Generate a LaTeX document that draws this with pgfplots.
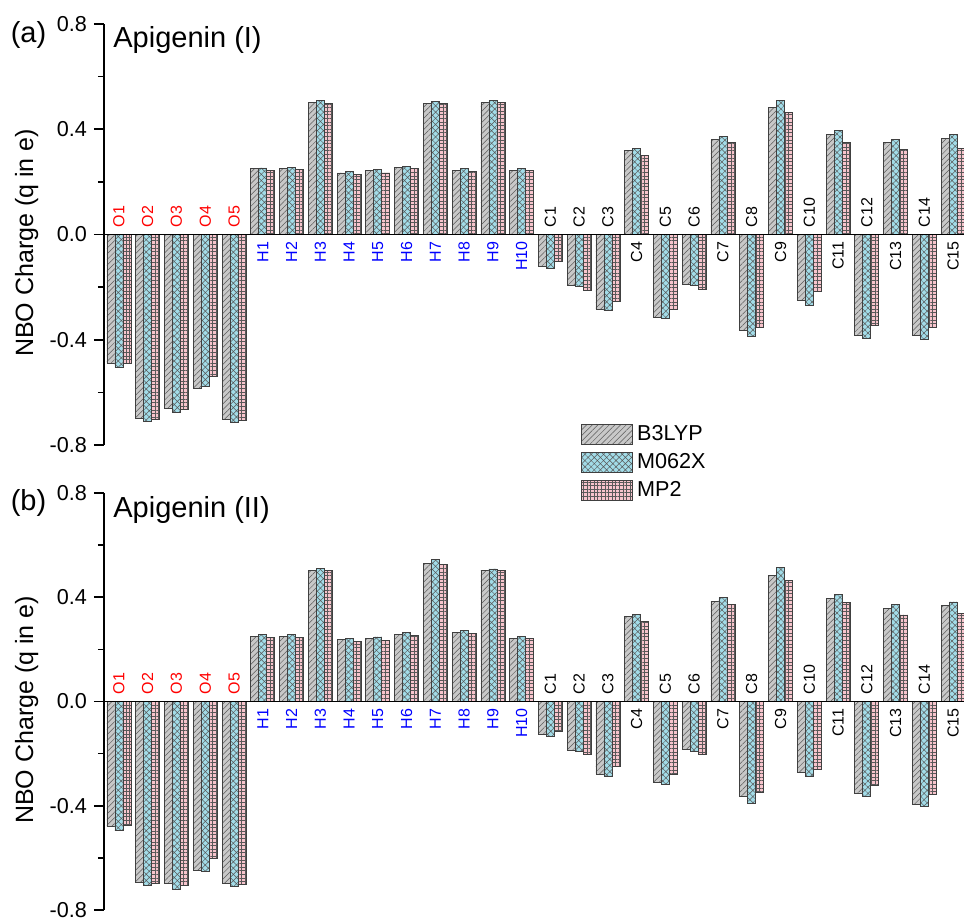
\documentclass[border=0pt]{standalone}
\usepackage{fontspec}
\setmainfont{Liberation Sans}
\usepackage{pgfplots}
\pgfplotsset{compat=1.18}
\usepackage{pgfplotstable}
\usetikzlibrary{patterns.meta}

\definecolor{bgray}{RGB}{200,200,200}
\definecolor{mblue}{RGB}{162,220,232}
\definecolor{ppink}{RGB}{247,196,204}

% panel (a): Apigenin (I)
\pgfplotstableread{
x b m p
0 -0.491 -0.506 -0.491
1 -0.700 -0.709 -0.703
2 -0.662 -0.676 -0.666
3 -0.583 -0.578 -0.538
4 -0.703 -0.714 -0.708
5 0.250 0.253 0.243
6 0.251 0.255 0.246
7 0.502 0.509 0.499
8 0.234 0.239 0.229
9 0.243 0.248 0.234
10 0.254 0.260 0.250
11 0.498 0.506 0.497
12 0.243 0.250 0.240
13 0.503 0.510 0.502
14 0.245 0.250 0.243
15 -0.122 -0.130 -0.103
16 -0.195 -0.198 -0.213
17 -0.284 -0.290 -0.254
18 0.318 0.326 0.302
19 -0.314 -0.320 -0.286
20 -0.189 -0.195 -0.210
21 0.360 0.374 0.349
22 -0.366 -0.387 -0.352
23 0.482 0.508 0.463
24 -0.251 -0.270 -0.217
25 0.381 0.394 0.349
26 -0.384 -0.395 -0.347
27 0.350 0.361 0.323
28 -0.385 -0.397 -0.352
29 0.366 0.380 0.328
}\chargeA

% panel (b): Apigenin (II)
\pgfplotstableread{
x b m p
0 -0.480 -0.495 -0.476
1 -0.693 -0.705 -0.697
2 -0.697 -0.719 -0.705
3 -0.648 -0.650 -0.603
4 -0.696 -0.709 -0.703
5 0.251 0.258 0.246
6 0.251 0.259 0.247
7 0.504 0.510 0.502
8 0.237 0.243 0.232
9 0.243 0.248 0.236
10 0.256 0.264 0.252
11 0.530 0.545 0.526
12 0.264 0.272 0.261
13 0.504 0.509 0.502
14 0.243 0.251 0.242
15 -0.125 -0.132 -0.116
16 -0.186 -0.190 -0.202
17 -0.280 -0.287 -0.249
18 0.327 0.333 0.306
19 -0.310 -0.318 -0.280
20 -0.183 -0.190 -0.202
21 0.385 0.400 0.371
22 -0.365 -0.389 -0.347
23 0.484 0.514 0.466
24 -0.270 -0.289 -0.260
25 0.396 0.410 0.381
26 -0.354 -0.365 -0.320
27 0.357 0.371 0.332
28 -0.393 -0.404 -0.358
29 0.369 0.382 0.339
}\chargeB

\tikzset{
  lu/.style={rotate=90, anchor=west, font=\fontsize{8}{9}\selectfont},
  ld/.style={rotate=90, anchor=east, font=\fontsize{8}{9}\selectfont},
}

\newcommand\catlabels{%
  \node[lu,red] at (axis cs:0,0) {O1};
  \node[lu,red] at (axis cs:1,0) {O2};
  \node[lu,red] at (axis cs:2,0) {O3};
  \node[lu,red] at (axis cs:3,0) {O4};
  \node[lu,red] at (axis cs:4,0) {O5};
  \node[ld,blue] at (axis cs:5,0) {H1};
  \node[ld,blue] at (axis cs:6,0) {H2};
  \node[ld,blue] at (axis cs:7,0) {H3};
  \node[ld,blue] at (axis cs:8,0) {H4};
  \node[ld,blue] at (axis cs:9,0) {H5};
  \node[ld,blue] at (axis cs:10,0) {H6};
  \node[ld,blue] at (axis cs:11,0) {H7};
  \node[ld,blue] at (axis cs:12,0) {H8};
  \node[ld,blue] at (axis cs:13,0) {H9};
  \node[ld,blue] at (axis cs:14,0) {H10};
  \node[lu] at (axis cs:15,0) {C1};
  \node[lu] at (axis cs:16,0) {C2};
  \node[lu] at (axis cs:17,0) {C3};
  \node[ld] at (axis cs:18,0) {C4};
  \node[lu] at (axis cs:19,0) {C5};
  \node[lu] at (axis cs:20,0) {C6};
  \node[ld] at (axis cs:21,0) {C7};
  \node[lu] at (axis cs:22,0) {C8};
  \node[ld] at (axis cs:23,0) {C9};
  \node[lu] at (axis cs:24,0) {C10};
  \node[ld] at (axis cs:25,0) {C11};
  \node[lu] at (axis cs:26,0) {C12};
  \node[ld] at (axis cs:27,0) {C13};
  \node[lu] at (axis cs:28,0) {C14};
  \node[ld] at (axis cs:29,0) {C15};
}

\pgfplotsset{
  panel/.style={
    width=430pt, scale only axis,
    xmin=-0.52, xmax=29.38, ymin=-0.8, ymax=0.8,
    axis x line*=middle, axis y line*=left,
    axis line style={-, line width=0.9pt, black},
    xtick=\empty, ytick pos=left,
    ytick={-0.8,-0.4,0,0.4,0.8}, minor ytick={-0.6,-0.2,0.2,0.6},
    tick align=outside, major tick length=5pt, minor tick length=3pt,
    every tick/.style={line width=0.8pt, black},
    /pgf/number format/fixed, /pgf/number format/fixed zerofill,
    /pgf/number format/precision=1, /pgf/number format/assume math mode=true,
    yticklabel style={font=\fontsize{10.8}{12}\selectfont},
    ylabel={NBO Charge (q in e)},
    ylabel style={at={(axis description cs:-0.09,0.48)}, anchor=center,
      font=\fontsize{12.5}{14}\selectfont},
    ybar=0pt, bar width=0.278,
    clip mode=individual, axis on top,
  },
  sB/.style={fill=bgray, draw=black!75, line width=0.35pt,
    postaction={pattern color=black!65, pattern={Lines[angle=45,distance=2pt,line width=0.25pt]}}},
  sM/.style={fill=mblue, draw=black!75, line width=0.35pt,
    postaction={pattern color=black!65, pattern={Hatch[angle=45,distance=2.2pt,line width=0.25pt]}}},
  sP/.style={fill=ppink, draw=black!75, line width=0.35pt,
    postaction={pattern color=black!65, pattern={Hatch[angle=0,distance=1.8pt,line width=0.25pt]}}},
}

\begin{document}
\begin{tikzpicture}
\path[use as bounding box] (0pt,0pt) rectangle (482pt,-460.5pt);

\begin{axis}[panel, at={(52pt,-222.5pt)}, anchor=south west, height=210.5pt,
  legend image code/.code={\draw[#1] (0pt,-5pt) rectangle (25.5pt,5pt);},
  legend style={at={(axis description cs:0.5547,0.058)}, anchor=north west,
    draw=none, fill=none, inner sep=0pt, row sep=1pt,
    font=\fontsize{10.8}{12}\selectfont},
  legend cell align=left]
\addplot[sB] table[x=x,y=b] {\chargeA};
\addplot[sM] table[x=x,y=m] {\chargeA};
\addplot[sP] table[x=x,y=p] {\chargeA};
\legend{B3LYP,M062X,MP2}
\catlabels
\node[anchor=north west, inner sep=0pt, font=\fontsize{14.5}{16}\selectfont]
  at (rel axis cs:0,1) [xshift=4.5pt, yshift=-1pt] {Apigenin (I)};
\end{axis}

\begin{axis}[panel, at={(52pt,-455pt)}, anchor=south west, height=208.5pt]
\addplot[sB] table[x=x,y=b] {\chargeB};
\addplot[sM] table[x=x,y=m] {\chargeB};
\addplot[sP] table[x=x,y=p] {\chargeB};
\catlabels
\node[anchor=north west, inner sep=0pt, font=\fontsize{14.5}{16}\selectfont]
  at (rel axis cs:0,1) [xshift=4.5pt, yshift=-1.5pt] {Apigenin (II)};
\end{axis}

\node[font=\fontsize{14.5}{16}\selectfont] at (14.25pt,-17.5pt) {(a)};
\node[font=\fontsize{14.5}{16}\selectfont] at (14.25pt,-251.5pt) {(b)};
\end{tikzpicture}
\end{document}
